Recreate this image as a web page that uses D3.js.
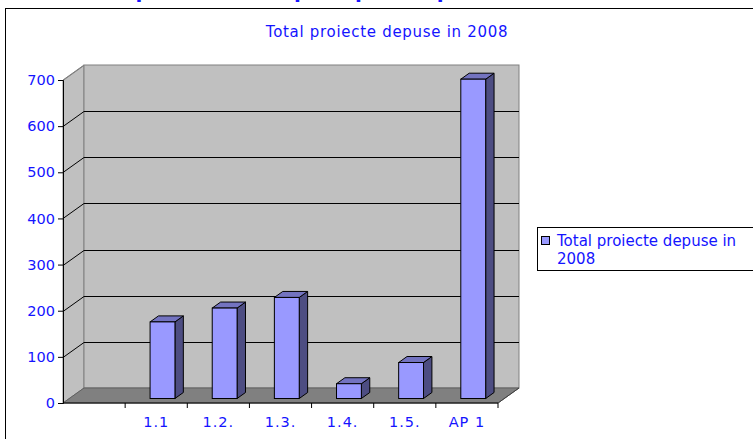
<!DOCTYPE html>
<html>
<head>
<meta charset="utf-8">
<script src="https://cdn.jsdelivr.net/npm/d3@7"></script>
<style>
  body { margin: 0; background: #fff; }
  text { font-family: "DejaVu Sans", Verdana, sans-serif; fill: #1414ff; }
</style>
</head>
<body>
<div id="chart"></div>
<script>
// data
const categories = ["", "1.1", "1.2.", "1.3.", "1.4.", "1.5.", "AP 1"];
const values = [null, 166, 196, 219, 32, 78, 692];
const yTicks = [0, 100, 200, 300, 400, 500, 600, 700];
const seriesName = "Total proiecte depuse in 2008";

const W = 753, H = 439;
const svg = d3.select("#chart").append("svg").attr("width", W).attr("height", H);

// plot geometry (front plane) and depth offset
const plot = { left: 63, right: 498, bottom: 403, top: 80 };
const depth = { dx: 21, dy: -15 };

const x = d3.scaleBand().domain(categories).range([plot.left, plot.right]);
const y = d3.scaleLinear().domain([0, 700]).range([plot.bottom, plot.top]);

// heading above the chart, mostly scrolled off the top in the original
svg.append("text")
  .attr("x", 40).attr("y", -2)
  .style("font-size", "20px").style("font-weight", "bold")
  .text("Situatia proiectelor depuse pe axa prioritara 1 in anul 2008");

// chart border
svg.append("rect")
  .attr("x", 5.5).attr("y", 8.5).attr("width", W + 10).attr("height", H)
  .attr("fill", "#fff").attr("stroke", "#000");

// title
svg.append("text")
  .attr("x", 387).attr("y", 37)
  .attr("text-anchor", "middle")
  .style("font-size", "15px")
  .style("letter-spacing", "0.7px")
  .text(seriesName);

// walls
const walls = svg.append("g");
walls.append("polygon")
  .attr("points", [[plot.left, y(700)], [plot.left + depth.dx, y(700) + depth.dy], [plot.left + depth.dx, plot.bottom + depth.dy], [plot.left, plot.bottom]].join(" "))
  .attr("fill", "#c0c0c0").attr("stroke", "#808080");
walls.append("rect")
  .attr("x", plot.left + depth.dx).attr("y", y(700) + depth.dy)
  .attr("width", plot.right - plot.left).attr("height", plot.bottom - y(700))
  .attr("fill", "#c0c0c0").attr("stroke", "#808080");
walls.append("polygon")
  .attr("points", [[plot.left, plot.bottom], [plot.right, plot.bottom], [plot.right + depth.dx, plot.bottom + depth.dy], [plot.left + depth.dx, plot.bottom + depth.dy]].join(" "))
  .attr("fill", "#808080").attr("stroke", "#606060");

// gridlines
const grid = svg.append("g").attr("stroke", "#000").attr("stroke-width", 1);
yTicks.filter(v => v > 0 && v < 700).forEach(v => {
  const yy = Math.round(y(v)) + 0.5;
  grid.append("line")
    .attr("x1", plot.left + depth.dx).attr("x2", plot.right + depth.dx)
    .attr("y1", yy + depth.dy).attr("y2", yy + depth.dy);
});
yTicks.filter(v => v > 0).forEach(v => {
  const yy = Math.round(y(v)) + 0.5;
  grid.append("line")
    .attr("x1", plot.left).attr("y1", yy)
    .attr("x2", plot.left + depth.dx).attr("y2", yy + depth.dy)
    .attr("stroke", v === 700 ? "#808080" : "#000");
});

// bars
const bw = x.bandwidth();
const bx = { off: 0.3, w: 0.4 };
const bd = { dx: depth.dx * 0.4, dy: depth.dy * 0.4 };
const shift = { dx: depth.dx * 0.3, dy: depth.dy * 0.3 };

const bars = svg.append("g").selectAll("g")
  .data(categories.map((c, i) => ({ c, v: values[i] })).filter(d => d.v != null))
  .join("g");

bars.each(function (d) {
  const g = d3.select(this);
  const x0 = x(d.c) + bw * bx.off + shift.dx;
  const x1 = x0 + bw * bx.w;
  const y0 = plot.bottom + shift.dy;
  const y1 = y(d.v) + shift.dy;
  g.append("polygon")
    .attr("points", [[x1, y0], [x1 + bd.dx, y0 + bd.dy], [x1 + bd.dx, y1 + bd.dy], [x1, y1]].join(" "))
    .attr("fill", "#4d4d82").attr("stroke", "#000");
  g.append("polygon")
    .attr("points", [[x0, y1], [x1, y1], [x1 + bd.dx, y1 + bd.dy], [x0 + bd.dx, y1 + bd.dy]].join(" "))
    .attr("fill", "#7373c0").attr("stroke", "#000");
  g.append("rect")
    .attr("x", x0).attr("y", y1).attr("width", x1 - x0).attr("height", y0 - y1)
    .attr("fill", "#9999ff").attr("stroke", "#000");
});

// axes
const yAxis = d3.axisLeft(y).tickValues(yTicks).tickSize(5).tickPadding(3).tickFormat(d3.format("d"));
const yg = svg.append("g").attr("transform", `translate(${plot.left},0)`).call(yAxis);
yg.select(".domain").attr("stroke", "#000");
yg.selectAll("text").style("font-size", "14.5px").attr("fill", "#1414ff");

const xg = svg.append("g").attr("transform", `translate(0,${plot.bottom})`);
xg.append("line").attr("x1", plot.left).attr("x2", plot.right).attr("stroke", "#000");
xg.selectAll(".tk")
  .data(categories.slice(1).concat(["__end"]))
  .join("line")
  .attr("class", "tk")
  .attr("x1", d => d === "__end" ? plot.right : x(d))
  .attr("x2", d => d === "__end" ? plot.right : x(d))
  .attr("y1", 0).attr("y2", 5)
  .attr("stroke", "#000");
xg.selectAll(".lbl")
  .data(categories.filter(c => c !== ""))
  .join("text")
  .attr("class", "lbl")
  .attr("x", d => x(d) + bw / 2)
  .attr("y", 24)
  .attr("text-anchor", "middle")
  .style("font-size", "14.5px")
  .style("letter-spacing", "1px")
  .text(d => d);
xg.append("line")
  .attr("x1", plot.right).attr("y1", 0)
  .attr("x2", plot.right + depth.dx).attr("y2", depth.dy)
  .attr("stroke", "#404040");

// legend
const lg = svg.append("g").attr("transform", "translate(537,227)");
lg.append("rect").attr("x", 0.5).attr("y", 0.5).attr("width", 240).attr("height", 43)
  .attr("fill", "#fff").attr("stroke", "#000");
lg.append("rect").attr("x", 4.5).attr("y", 9.5).attr("width", 8).attr("height", 8)
  .attr("fill", "#9999ff").attr("stroke", "#000");
const lt = lg.append("text").style("font-size", "15px");
lt.append("tspan").attr("x", 20).attr("y", 19).text("Total proiecte depuse in");
lt.append("tspan").attr("x", 20).attr("y", 37).text("2008");
</script>
</body>
</html>
